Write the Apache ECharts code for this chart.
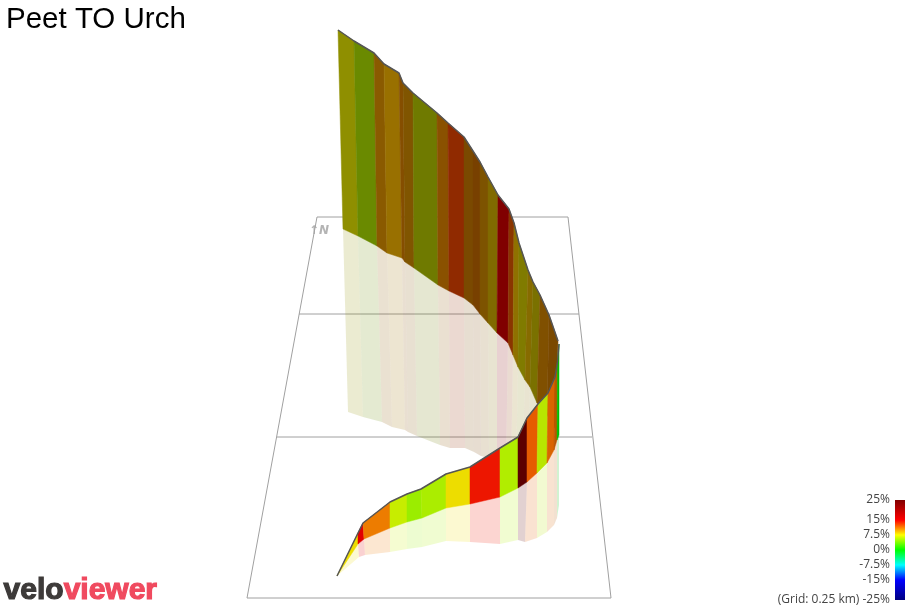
<!DOCTYPE html>
<html>
<head>
<meta charset="utf-8">
<title>Peet TO Urch</title>
<style>
html, body { margin: 0; padding: 0; background: #fff; }
#main { width: 907px; height: 607px; }
</style>
<script src="https://cdn.jsdelivr.net/npm/echarts@6/dist/echarts.min.js"></script>
</head>
<body>
<div id="main"></div>
<script>
// Far side of the climb, as seen on the picture (road edge, foot of wall, foot of shadow)
var farRoadX = [338, 354, 374, 384, 399, 403, 413, 437, 448, 464, 473, 480, 488, 498, 509, 514, 519, 528, 533, 540, 549, 558];
var farRoadY = [30, 41, 53, 64, 73, 83, 93, 113, 123, 137, 151, 162, 177, 195, 209, 223, 243, 270, 282, 295, 315, 341];
var farWallX = [343, 358, 377, 387, 402, 405, 414, 438, 449, 464, 473, 480, 488, 497, 508, 513, 518, 525, 530, 537, 547, 556];
var farWallY = [229, 236, 246, 253, 258, 262, 268, 285, 291, 298, 305, 314, 323, 333, 343, 355, 367, 380, 387, 403, 415, 430];
var farShadowX = [348, 363, 382, 392, 405, 408, 417, 440, 450, 465, 474, 481, 489, 497, 506, 511, 516, 522, 527, 534, 544, 553];
var farShadowY = [412, 417, 422, 427, 430, 432, 436, 445, 448, 448, 452, 456, 458, 460, 465, 468, 470, 472, 474, 470, 460, 445];
var farGrade = [7.5, 5.8, 10.1, 9.5, 10.6, 10, 6.8, 10.6, 12.8, 10.5, 11, 10, 8.8, 15, 12.1, 9.1, 7.8, 9.1, 8.1, 10.3, 10.5];
var farLight = [0.56, 0.54, 0.54, 0.6, 0.52, 0.5, 0.48, 0.54, 0.565, 0.48, 0.47, 0.49, 0.5, 0.5, 0.54, 0.56, 0.5, 0.53, 0.48, 0.5, 0.48];

// Near side of the climb
var nearRoadX = [337, 358, 363, 390, 407, 421, 446, 470, 500, 518, 527, 538, 548, 555, 557.5, 559];
var nearRoadY = [576, 533, 523, 502, 494, 489, 474, 467, 448, 437, 418, 404, 393, 377, 362, 344];
var nearWallX = [337, 358, 364, 390, 407, 422, 446, 470, 500, 518, 527, 537, 547, 554, 557, 559];
var nearWallY = [576, 544, 539, 528, 522, 518, 508, 504, 497, 488, 482, 473, 463, 450, 440, 435];
var nearShadowX = [337, 359, 365, 390, 407, 422, 446, 470, 500, 518, 525, 537, 547, 554, 557, 559];
var nearShadowY = [576, 557, 555, 552, 549, 547, 541, 542, 544, 540, 542, 538, 532, 525, 518, 505];
var nearGrade = [8, 16, 11.1, 6.3, 4.9, 5.4, 8, 14.3, 5.6, 25, 12, 6, 11.5, 11.5, 0];
var nearLight = [0.93, 0.93, 0.93, 0.93, 0.93, 0.93, 0.93, 0.93, 0.93, 0.72, 0.9, 0.9, 0.85, 0.72, 0.75];

// Floor grid
var floorX = [317, 568, 611, 247, 317];
var floorY = [217, 217, 598, 598, 217];
var gridRowY = [314, 437];
var gridRowLeft = [299, 277];
var gridRowRight = [579, 592];

// Gradient scale
var scaleTicks = [25, 15, 7.5, 0, -7.5, -15, -25];
var scaleStops = [-25, -15, -7.5, 0, 7.5, 15, 25];
var scaleColors = ['#000080', '#0000ff', '#00ffff', '#00ff00', '#ffff00', '#ff0000', '#800000'];

var myChart = echarts.init(document.getElementById('main'));

// visualMap spaces its colours evenly, the stops above are not even
function evenColors() {
    var list = [];
    for (var v = -25; v <= 25; v += 2.5) {
        var k = 0;
        while (k < scaleStops.length - 2 && v > scaleStops[k + 1]) k++;
        var t = (v - scaleStops[k]) / (scaleStops[k + 1] - scaleStops[k]);
        list.push(echarts.color.lerp(t, [scaleColors[k], scaleColors[k + 1]]));
    }
    return list;
}

function shade(color, f) {
    var c = echarts.color.parse(color);
    return 'rgb(' + Math.round(c[0] * f) + ',' + Math.round(c[1] * f) + ',' + Math.round(c[2] * f) + ')';
}

function zip(xs, ys) {
    return xs.map(function (x, i) { return [x, ys[i]]; });
}

// one coloured strip between two edges of the profile
function stripSeries(name, grades, light, ax, ay, bx, by, alpha, z) {
    return {
        name: name,
        type: 'custom',
        coordinateSystem: 'cartesian2d',
        xAxisIndex: 0,
        yAxisIndex: 0,
        z: z,
        silent: true,
        encode: { x: 0, y: -1 },
        data: grades.map(function (g, i) { return [ax[i], g, i]; }),
        renderItem: function (params, api) {
            var i = api.value(2);
            var col = shade(api.visual('color'), light[i]);
            return {
                type: 'polygon',
                shape: {
                    points: [
                        api.coord([ax[i], ay[i]]),
                        api.coord([ax[i + 1], ay[i + 1]]),
                        api.coord([bx[i + 1], by[i + 1]]),
                        api.coord([bx[i], by[i]])
                    ]
                },
                style: alpha < 1 ? { fill: col, opacity: alpha } : { fill: col, stroke: col, lineWidth: 0.5 }
            };
        }
    };
}

function lineSeries(points, color, width, z) {
    return {
        type: 'line',
        xAxisIndex: 0,
        yAxisIndex: 0,
        data: points,
        symbol: 'none',
        silent: true,
        z: z,
        animation: false,
        lineStyle: { color: color, width: width }
    };
}

// colour bar of the gradient scale, on its own small grid
function scaleBarSeries() {
    return {
        type: 'custom',
        coordinateSystem: 'cartesian2d',
        xAxisIndex: 1,
        yAxisIndex: 1,
        silent: true,
        z: 2,
        data: [[0, scaleStops[0], 1, scaleStops[scaleStops.length - 1]]],
        encode: { x: 0, y: 1 },
        renderItem: function (params, api) {
            var a = api.coord([api.value(0), api.value(3)]);
            var b = api.coord([api.value(2), api.value(1)]);
            var stops = scaleStops.map(function (v, i) {
                return { offset: (scaleStops[scaleStops.length - 1] - v) / 50, color: scaleColors[i] };
            }).reverse();
            return {
                type: 'rect',
                shape: { x: a[0], y: a[1], width: b[0] - a[0], height: b[1] - a[1] },
                style: { fill: new echarts.graphic.LinearGradient(0, 0, 0, 1, stops) }
            };
        }
    };
}

var option = {
    animation: false,
    title: {
        text: 'Peet TO Urch',
        left: 1,
        top: 0,
        textStyle: { fontFamily: 'Liberation Sans', fontSize: 29.5, fontWeight: 'normal', color: '#000' }
    },
    grid: [
        { left: 0, right: 0, top: 0, bottom: 0 },
        { left: 895, width: 10, top: 500, height: 100 }
    ],
    xAxis: [
        { type: 'value', min: 0, max: 907, show: false },
        { type: 'value', gridIndex: 1, min: 0, max: 1, show: false }
    ],
    yAxis: [
        { type: 'value', min: 0, max: 607, inverse: true, show: false },
        {
            type: 'value',
            gridIndex: 1,
            min: -25,
            max: 25,
            position: 'left',
            axisLine: { show: false },
            axisTick: { show: false },
            splitLine: { show: false },
            axisLabel: {
                customValues: scaleTicks,
                margin: 5,
                padding: [2, 0, 0, 0],
                fontFamily: 'Open Sans',
                fontSize: 12,
                color: '#444',
                formatter: function (v) {
                    return v === -25 ? '(Grid: 0.25 km) -25%' : v + '%';
                }
            }
        }
    ],
    visualMap: {
        type: 'continuous',
        show: false,
        seriesIndex: [0, 1, 2, 3],
        dimension: 1,
        min: -25,
        max: 25,
        inRange: { color: evenColors() }
    },
    graphic: [
        {
            type: 'text',
            left: 309,
            top: 225,
            silent: true,
            style: { text: '↑N', font: 'italic bold 12px "DejaVu Sans"', fill: '#b4b4b4' }
        },
        {
            type: 'text',
            left: 3,
            top: 575,
            silent: true,
            style: {
                text: '{a|velo}{b|viewer}',
                rich: {
                    a: { font: 'bold 30px "Liberation Sans"', fill: '#3d3a39', stroke: '#3d3a39', lineWidth: 1.2 },
                    b: { font: 'bold 30px "Liberation Sans"', fill: '#f04a5f', stroke: '#f04a5f', lineWidth: 1.2 }
                }
            }
        }
    ],
    series: [
        stripSeries('far shadow', farGrade, farLight, farWallX, farWallY, farShadowX, farShadowY, 0.18, 3),
        stripSeries('far wall', farGrade, farLight, farRoadX, farRoadY, farWallX, farWallY, 1, 4),
        stripSeries('near shadow', nearGrade, nearLight, nearWallX, nearWallY, nearShadowX, nearShadowY, 0.18, 5),
        stripSeries('near wall', nearGrade, nearLight, nearRoadX, nearRoadY, nearWallX, nearWallY, 1, 6),
        lineSeries(zip(floorX, floorY), '#a0a0a0', 1, 1),
        lineSeries([[gridRowLeft[0], gridRowY[0]], [gridRowRight[0], gridRowY[0]]], '#a0a0a0', 1, 1),
        lineSeries([[gridRowLeft[1], gridRowY[1]], [gridRowRight[1], gridRowY[1]]], '#a0a0a0', 1, 1),
        lineSeries(zip(farRoadX, farRoadY), '#555', 1.5, 7),
        lineSeries(zip(nearRoadX, nearRoadY), '#555', 1.5, 8),
        scaleBarSeries()
    ]
};
myChart.setOption(option);
</script>
</body>
</html>
